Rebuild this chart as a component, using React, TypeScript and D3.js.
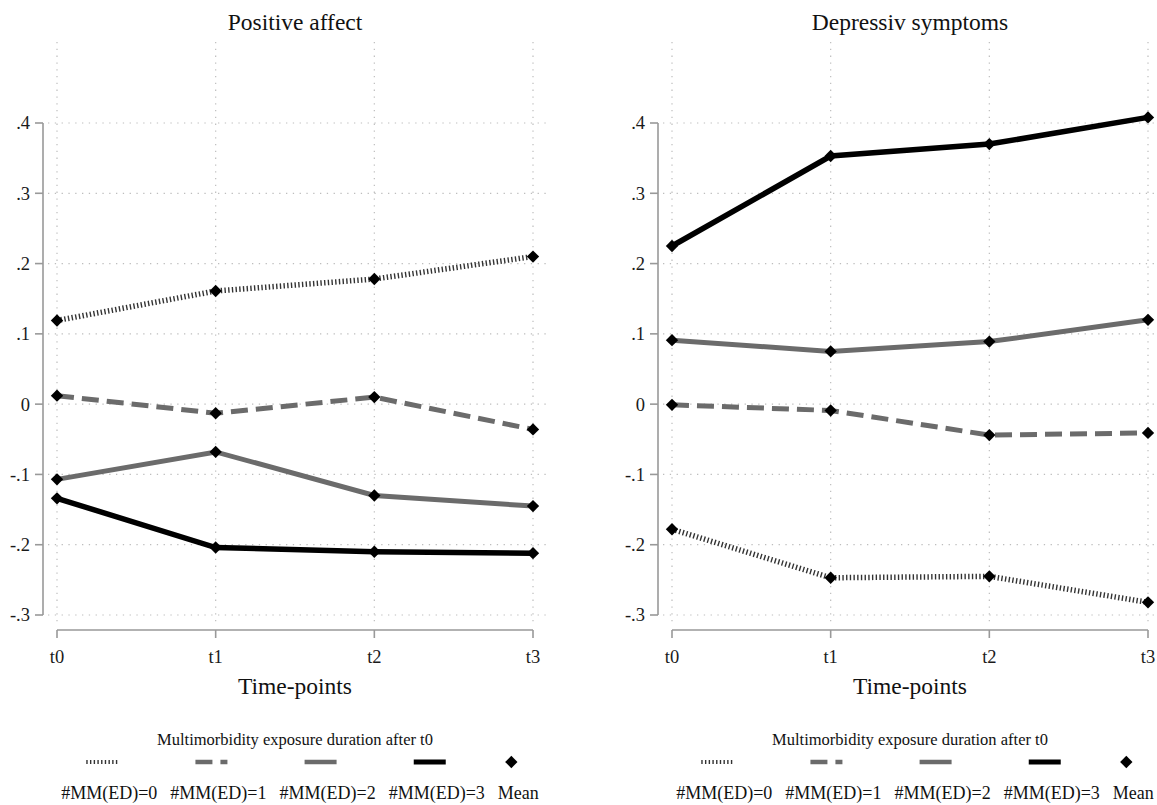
import React, { useEffect, useRef } from 'react';
import * as d3 from 'd3';

// Data
const timePoints = ['t0', 't1', 't2', 't3'];
const yTickValues = [-0.3, -0.2, -0.1, 0, 0.1, 0.2, 0.3, 0.4];

const positiveMM0 = [0.119, 0.161, 0.178, 0.21];
const positiveMM1 = [0.012, -0.013, 0.01, -0.036];
const positiveMM2 = [-0.107, -0.068, -0.13, -0.145];
const positiveMM3 = [-0.134, -0.204, -0.21, -0.212];

const depressMM0 = [-0.178, -0.247, -0.245, -0.282];
const depressMM1 = [-0.001, -0.009, -0.044, -0.041];
const depressMM2 = [0.091, 0.075, 0.089, 0.12];
const depressMM3 = [0.225, 0.353, 0.37, 0.408];

const panelTitles = ['Positive affect', 'Depressiv symptoms'];
const seriesLabels = ['#MM(ED)=0', '#MM(ED)=1', '#MM(ED)=2', '#MM(ED)=3'];
const meanLabel = 'Mean';
const legendTitle = 'Multimorbidity exposure duration after t0';
const xTitle = 'Time-points';

const panelSeries = [
  [positiveMM0, positiveMM1, positiveMM2, positiveMM3],
  [depressMM0, depressMM1, depressMM2, depressMM3],
];

const lineStyles = [
  { stroke: '#333333', width: 5.5, dash: '1.4,2.3', keyWidth: 4 },
  { stroke: '#6b6b6b', width: 5, dash: '17,8', keyWidth: 4.5 },
  { stroke: '#6b6b6b', width: 5, dash: null, keyWidth: 4.5 },
  { stroke: '#000000', width: 5.5, dash: null, keyWidth: 5 },
];

const FONT = '"Liberation Serif", "Times New Roman", serif';

export default function App() {
  const svgRef = useRef<SVGSVGElement>(null);
  const width = 1157;
  const height = 805;

  useEffect(() => {
    if (!svgRef.current) return;
    const svg = d3.select(svgRef.current);
    svg.selectAll('*').remove();

    const yScale = d3.scaleLinear().domain([-0.3, 0.4]).range([615, 123]);
    const fmt = (v: number) => (v === 0 ? '0' : v.toFixed(1).replace('0.', '.'));
    const diamond = d3.symbol(d3.symbolSquare, 76)();

    panelSeries.forEach((series, p) => {
      const off = p * 615;
      const axisX = 43 + off;
      const xScale = d3.scalePoint<string>().domain(timePoints).range([57 + off, 533 + off]);
      const x0 = xScale('t0')!;
      const x3 = xScale('t3')!;
      const center = (x0 + x3) / 2;
      const g = svg.append('g');

      // Grid
      g.selectAll('.hgrid')
        .data(yTickValues)
        .join('line')
        .attr('x1', x0 - 9)
        .attr('x2', Math.min(x3 + 13, width))
        .attr('y1', d => yScale(d))
        .attr('y2', d => yScale(d))
        .attr('stroke', '#bdbdbd')
        .attr('stroke-width', 1.2)
        .attr('stroke-dasharray', '1.3,5.5');

      g.selectAll('.vgrid')
        .data(timePoints)
        .join('line')
        .attr('x1', d => xScale(d)!)
        .attr('x2', d => xScale(d)!)
        .attr('y1', 42)
        .attr('y2', 623)
        .attr('stroke', '#bdbdbd')
        .attr('stroke-width', 1.2)
        .attr('stroke-dasharray', '1.3,5.5');

      // Y axis
      g.append('line')
        .attr('x1', axisX).attr('x2', axisX)
        .attr('y1', yScale(0.4)).attr('y2', yScale(-0.3))
        .attr('stroke', '#999').attr('stroke-width', 1.6);
      g.selectAll('.ytick')
        .data(yTickValues)
        .join('line')
        .attr('x1', axisX - 8).attr('x2', axisX)
        .attr('y1', d => yScale(d)).attr('y2', d => yScale(d))
        .attr('stroke', '#999').attr('stroke-width', 1.6);
      g.selectAll('.ylabel')
        .data(yTickValues)
        .join('text')
        .attr('x', axisX - 13)
        .attr('y', d => yScale(d))
        .attr('dy', '0.35em')
        .attr('text-anchor', 'end')
        .attr('font-family', FONT)
        .attr('font-size', 18.5)
        .attr('fill', '#1a1a1a')
        .text(d => fmt(d));

      // X axis
      g.append('line')
        .attr('x1', x0).attr('x2', x3)
        .attr('y1', 630).attr('y2', 630)
        .attr('stroke', '#999').attr('stroke-width', 1.6);
      g.selectAll('.xtick')
        .data(timePoints)
        .join('line')
        .attr('x1', d => xScale(d)!).attr('x2', d => xScale(d)!)
        .attr('y1', 630).attr('y2', 638)
        .attr('stroke', '#999').attr('stroke-width', 1.6);
      g.selectAll('.xlabel')
        .data(timePoints)
        .join('text')
        .attr('x', d => xScale(d)!)
        .attr('y', 663)
        .attr('text-anchor', 'middle')
        .attr('font-family', FONT)
        .attr('font-size', 18.5)
        .attr('fill', '#1a1a1a')
        .text(d => d);

      g.append('text')
        .attr('x', center).attr('y', 694)
        .attr('text-anchor', 'middle')
        .attr('font-family', FONT).attr('font-size', 23.5)
        .attr('fill', '#111')
        .text(xTitle);

      g.append('text')
        .attr('x', center).attr('y', 30)
        .attr('text-anchor', 'middle')
        .attr('font-family', FONT).attr('font-size', 23.5)
        .attr('fill', '#111')
        .text(panelTitles[p]);

      // Lines
      const line = d3.line<number>()
        .x((_, i) => xScale(timePoints[i])!)
        .y(d => yScale(d));

      series.forEach((vals, s) => {
        const st = lineStyles[s];
        g.append('path')
          .datum(vals)
          .attr('fill', 'none')
          .attr('stroke', st.stroke)
          .attr('stroke-width', st.width)
          .attr('stroke-dasharray', st.dash)
          .attr('d', line);
      });

      // Mean markers
      series.forEach(vals => {
        g.selectAll(null)
          .data(vals)
          .join('path')
          .attr('d', diamond)
          .attr('transform', (d, i) => `translate(${xScale(timePoints[i])},${yScale(d)}) rotate(45)`)
          .attr('fill', '#000');
      });

      // Legend
      g.append('text')
        .attr('x', center).attr('y', 745)
        .attr('text-anchor', 'middle')
        .attr('font-family', FONT).attr('font-size', 16.5)
        .attr('fill', '#111')
        .text(legendTitle);

      const labels = [...seriesLabels, meanLabel];
      const labelNodes = labels.map(t =>
        g.append('text')
          .attr('y', 799)
          .attr('font-family', FONT).attr('font-size', 18)
          .attr('fill', '#111')
          .text(t)
      );
      const widths = labelNodes.map(n => (n.node() as SVGTextElement).getComputedTextLength());
      const gap = 13;
      const total = d3.sum(widths) + gap * (widths.length - 1);
      let cursor = center + 5 - total / 2;
      labelNodes.forEach((n, i) => {
        n.attr('x', cursor);
        const keyCx = cursor + widths[i] / 2 - 7;
        if (i < 4) {
          const st = lineStyles[i];
          g.append('line')
            .attr('x1', keyCx - 16).attr('x2', keyCx + 16)
            .attr('y1', 762).attr('y2', 762)
            .attr('stroke', st.stroke)
            .attr('stroke-width', st.keyWidth)
            .attr('stroke-dasharray', st.dash);
        } else {
          g.append('path')
            .attr('d', diamond)
            .attr('transform', `translate(${keyCx},762) rotate(45)`)
            .attr('fill', '#000');
        }
        cursor += widths[i] + gap;
      });
    });
  }, []);

  return (
    <svg
      ref={svgRef}
      width={width}
      height={height}
      style={{ position: 'absolute', left: 0, top: 0, background: '#fff' }}
    />
  );
}
